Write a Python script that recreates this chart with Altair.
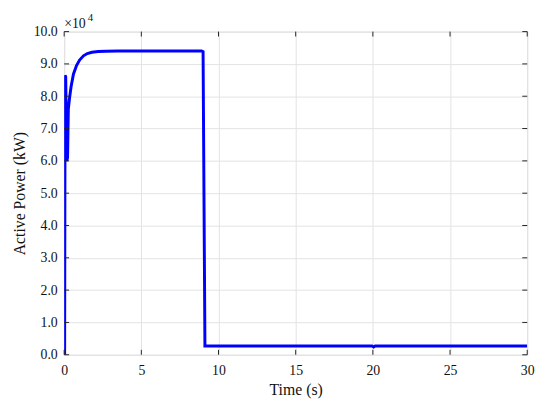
import altair as alt
import pandas as pd

# Time (s) and active power (kW)
time_s = [0.0, 0.03, 0.06, 0.10, 0.17, 0.22, 0.27, 0.35, 0.45, 0.6, 0.8, 1.0, 1.25,
          1.5, 1.8, 2.2, 2.7, 3.5, 5.0, 7.0, 8.9, 9.0, 9.12, 12.0, 19.95, 20.05, 20.15, 25.0, 30.0]
power_kw = [0, 0, 86500, 86000, 60000, 61000, 76000, 79500, 83000, 86800, 89500, 91200, 92500,
            93200, 93600, 93850, 93950, 94000, 94000, 94000, 94000, 93800, 2700, 2700, 2700, 2400, 2700, 2700, 2700]

x_ticks = [0, 5, 10, 15, 20, 25, 30]
y_ticks = [0, 10000, 20000, 30000, 40000, 50000, 60000, 70000, 80000, 90000, 100000]

W, H = 470, 328
FONT = "Liberation Serif"
AX = "#262626"

df = pd.DataFrame({"t": time_s, "p": power_kw})
xt = pd.DataFrame({"v": x_ticks})
yt = pd.DataFrame({"v": y_ticks})

xscale = alt.Scale(domain=[0, 30], nice=False, zero=False)
yscale = alt.Scale(domain=[0, 100000], nice=False)

x_axis = alt.Axis(values=x_ticks, title="Time (s)", tickSize=0, labelPadding=9,
                  titlePadding=4, domain=False, grid=True, gridColor="#e3e3e3",
                  labelOverlap=False, labelFlush=False,
                  labelFont=FONT, titleFont=FONT, labelFontSize=14, titleFontSize=16,
                  titleFontWeight="normal", labelColor="#111", titleColor="#111")
y_axis = alt.Axis(values=y_ticks, title="Active Power (kW)", tickSize=0, labelPadding=7,
                  titlePadding=6, domain=False, grid=True, gridColor="#e3e3e3",
                  labelOverlap=False, labelFlush=False,
                  labelExpr="format(datum.value / 10000, '.1f')",
                  labelFont=FONT, titleFont=FONT, labelFontSize=14, titleFontSize=16,
                  titleFontWeight="normal", labelColor="#111", titleColor="#111")

line = alt.Chart(df).mark_line(color="#0000ff", strokeWidth=3, clip=True).encode(
    x=alt.X("t:Q", scale=xscale, axis=x_axis),
    y=alt.Y("p:Q", scale=yscale, axis=y_axis),
)

tick_len = 5
xb = alt.Chart(xt).mark_rule(color=AX, strokeWidth=1).encode(
    x=alt.X("v:Q", scale=xscale, axis=x_axis), y=alt.value(H), y2=alt.value(H - tick_len))
xtop = alt.Chart(xt).mark_rule(color=AX, strokeWidth=1).encode(
    x=alt.X("v:Q", scale=xscale, axis=x_axis), y=alt.value(0), y2=alt.value(tick_len))
yl = alt.Chart(yt).mark_rule(color=AX, strokeWidth=1).encode(
    y=alt.Y("v:Q", scale=yscale, axis=y_axis), x=alt.value(0), x2=alt.value(tick_len))
yr = alt.Chart(yt).mark_rule(color=AX, strokeWidth=1).encode(
    y=alt.Y("v:Q", scale=yscale, axis=y_axis), x=alt.value(W), x2=alt.value(W - tick_len))

exp_base = alt.Chart(pd.DataFrame({"s": ["×10"]})).mark_text(
    font=FONT, fontSize=14, align="left", baseline="alphabetic", color="#111").encode(
    text="s:N", x=alt.value(0), y=alt.value(-4))
exp_pow = alt.Chart(pd.DataFrame({"s": ["4"]})).mark_text(
    font=FONT, fontSize=11, align="left", baseline="alphabetic", color="#111").encode(
    text="s:N", x=alt.value(24), y=alt.value(-11))

chart = alt.layer(line, xb, xtop, yl, yr, exp_base, exp_pow).properties(
    width=W, height=H,
    autosize=alt.AutoSizeParams(type="none"),
    padding={"left": 57, "top": 21, "right": 15, "bottom": 45},
).configure_view(stroke=AX, strokeWidth=1.2).configure(background="white")

chart.save("out.html", embed_options={"renderer": "svg", "actions": False})
